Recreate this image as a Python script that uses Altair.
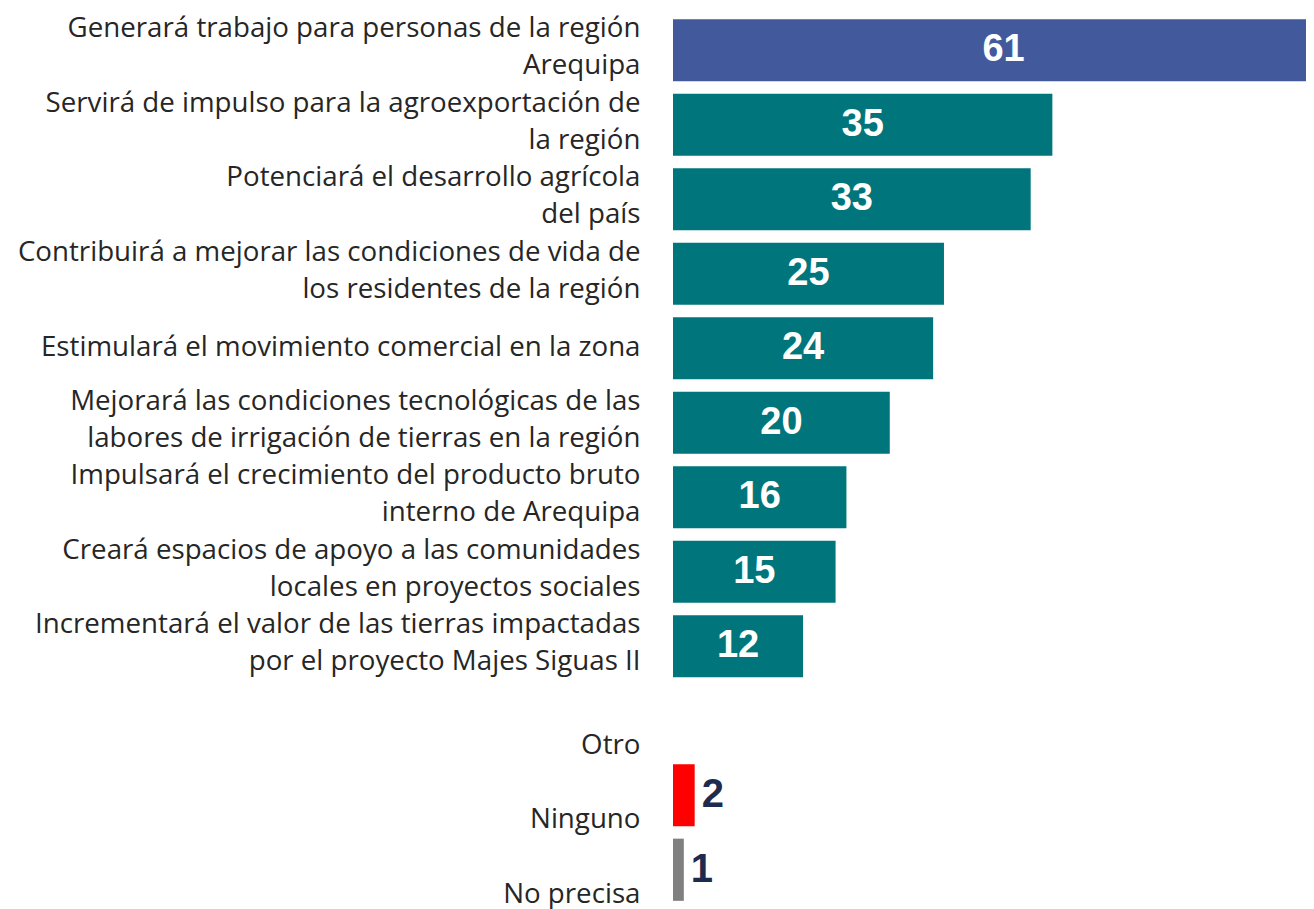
import altair as alt
import pandas as pd

# Category labels ("|" marks a line break in the axis label)
categories = [
    "Generará trabajo para personas de la región|Arequipa",
    "Servirá de impulso para la agroexportación de|la región",
    "Potenciará el desarrollo agrícola|del país",
    "Contribuirá a mejorar las condiciones de vida de|los residentes de la región",
    "Estimulará el movimiento comercial en la zona",
    "Mejorará las condiciones tecnológicas de las|labores de irrigación de tierras en la región",
    "Impulsará el crecimiento del producto bruto|interno de Arequipa",
    "Creará espacios de apoyo a las comunidades|locales en proyectos sociales",
    "Incrementará el valor de las tierras impactadas|por el proyecto Majes Siguas II",
    "Otro",
    "Ninguno",
    "No precisa",
]
values = [61, 35, 33, 25, 24, 20, 16, 15, 12, None, 2, 1]
groups = ["principal", "beneficio", "beneficio", "beneficio", "beneficio",
          "beneficio", "beneficio", "beneficio", "beneficio", "otro",
          "ninguno", "no_precisa"]

group_domain = ["principal", "beneficio", "otro", "ninguno", "no_precisa"]
group_colors = ["#425a9c", "#00767c", "#00767c", "#ff0000", "#808080"]

df = pd.DataFrame({"cat": categories, "value": values, "group": groups})

y_enc = alt.Y(
    "cat:N",
    sort=categories,
    scale=alt.Scale(paddingInner=0.165, paddingOuter=0.0825),
    axis=alt.Axis(
        title=None,
        domain=False,
        ticks=False,
        grid=False,
        labelExpr="split(datum.label, '|')",
        labelFont="Open Sans",
        labelFontSize=27.7,
        labelColor="#262626",
        labelPadding=33,
        labelLineHeight=37,
        labelLimit=800,
        labelAlign="right",
        labelBaseline="middle",
        labelOffset={
            "condition": [
                {"test": "indexof(datum.value, '|') >= 0", "value": -21},
                {"test": "datum.value == 'Otro' || datum.value == 'Ninguno' || datum.value == 'No precisa'", "value": 25},
            ],
            "value": 0,
        },
    ),
)

x_scale = alt.Scale(domain=[0, 58.4], nice=False, zero=True)

bars = alt.Chart(df).mark_bar(clip=True).encode(
    x=alt.X("value:Q", scale=x_scale, axis=None),
    y=y_enc,
    color=alt.Color("group:N", scale=alt.Scale(domain=group_domain, range=group_colors), legend=None),
)

inside = alt.Chart(df).transform_filter(
    "datum.value >= 10"
).transform_calculate(
    mid="datum.value / 2"
).mark_text(
    font="Liberation Sans Narrow, Arial Narrow, Liberation Sans",
    fontWeight="bold",
    fontSize=38,
    color="white",
    align="center",
    baseline="middle",
).encode(
    x=alt.X("mid:Q", scale=x_scale, axis=None),
    y=alt.Y("cat:N", sort=categories),
    text=alt.Text("value:Q", format="d"),
)

outside = alt.Chart(df).transform_filter(
    "datum.value != null && datum.value < 10"
).mark_text(
    font="Liberation Sans",
    fontWeight="bold",
    fontSize=40,
    color="#1c2b4f",
    align="left",
    baseline="middle",
    dx=7,
).encode(
    x=alt.X("value:Q", scale=x_scale, axis=None),
    y=alt.Y("cat:N", sort=categories),
    text=alt.Text("value:Q", format="d"),
)

chart = alt.layer(bars, inside, outside).properties(
    width=633,
    height=894,
    background="white",
    autosize=alt.AutoSizeParams(type="none"),
    padding={"left": 665, "top": 5, "right": 0, "bottom": 6},
).configure_view(stroke=None, strokeWidth=0)

chart.save("out.html", embed_options={"renderer": "svg", "actions": False})
